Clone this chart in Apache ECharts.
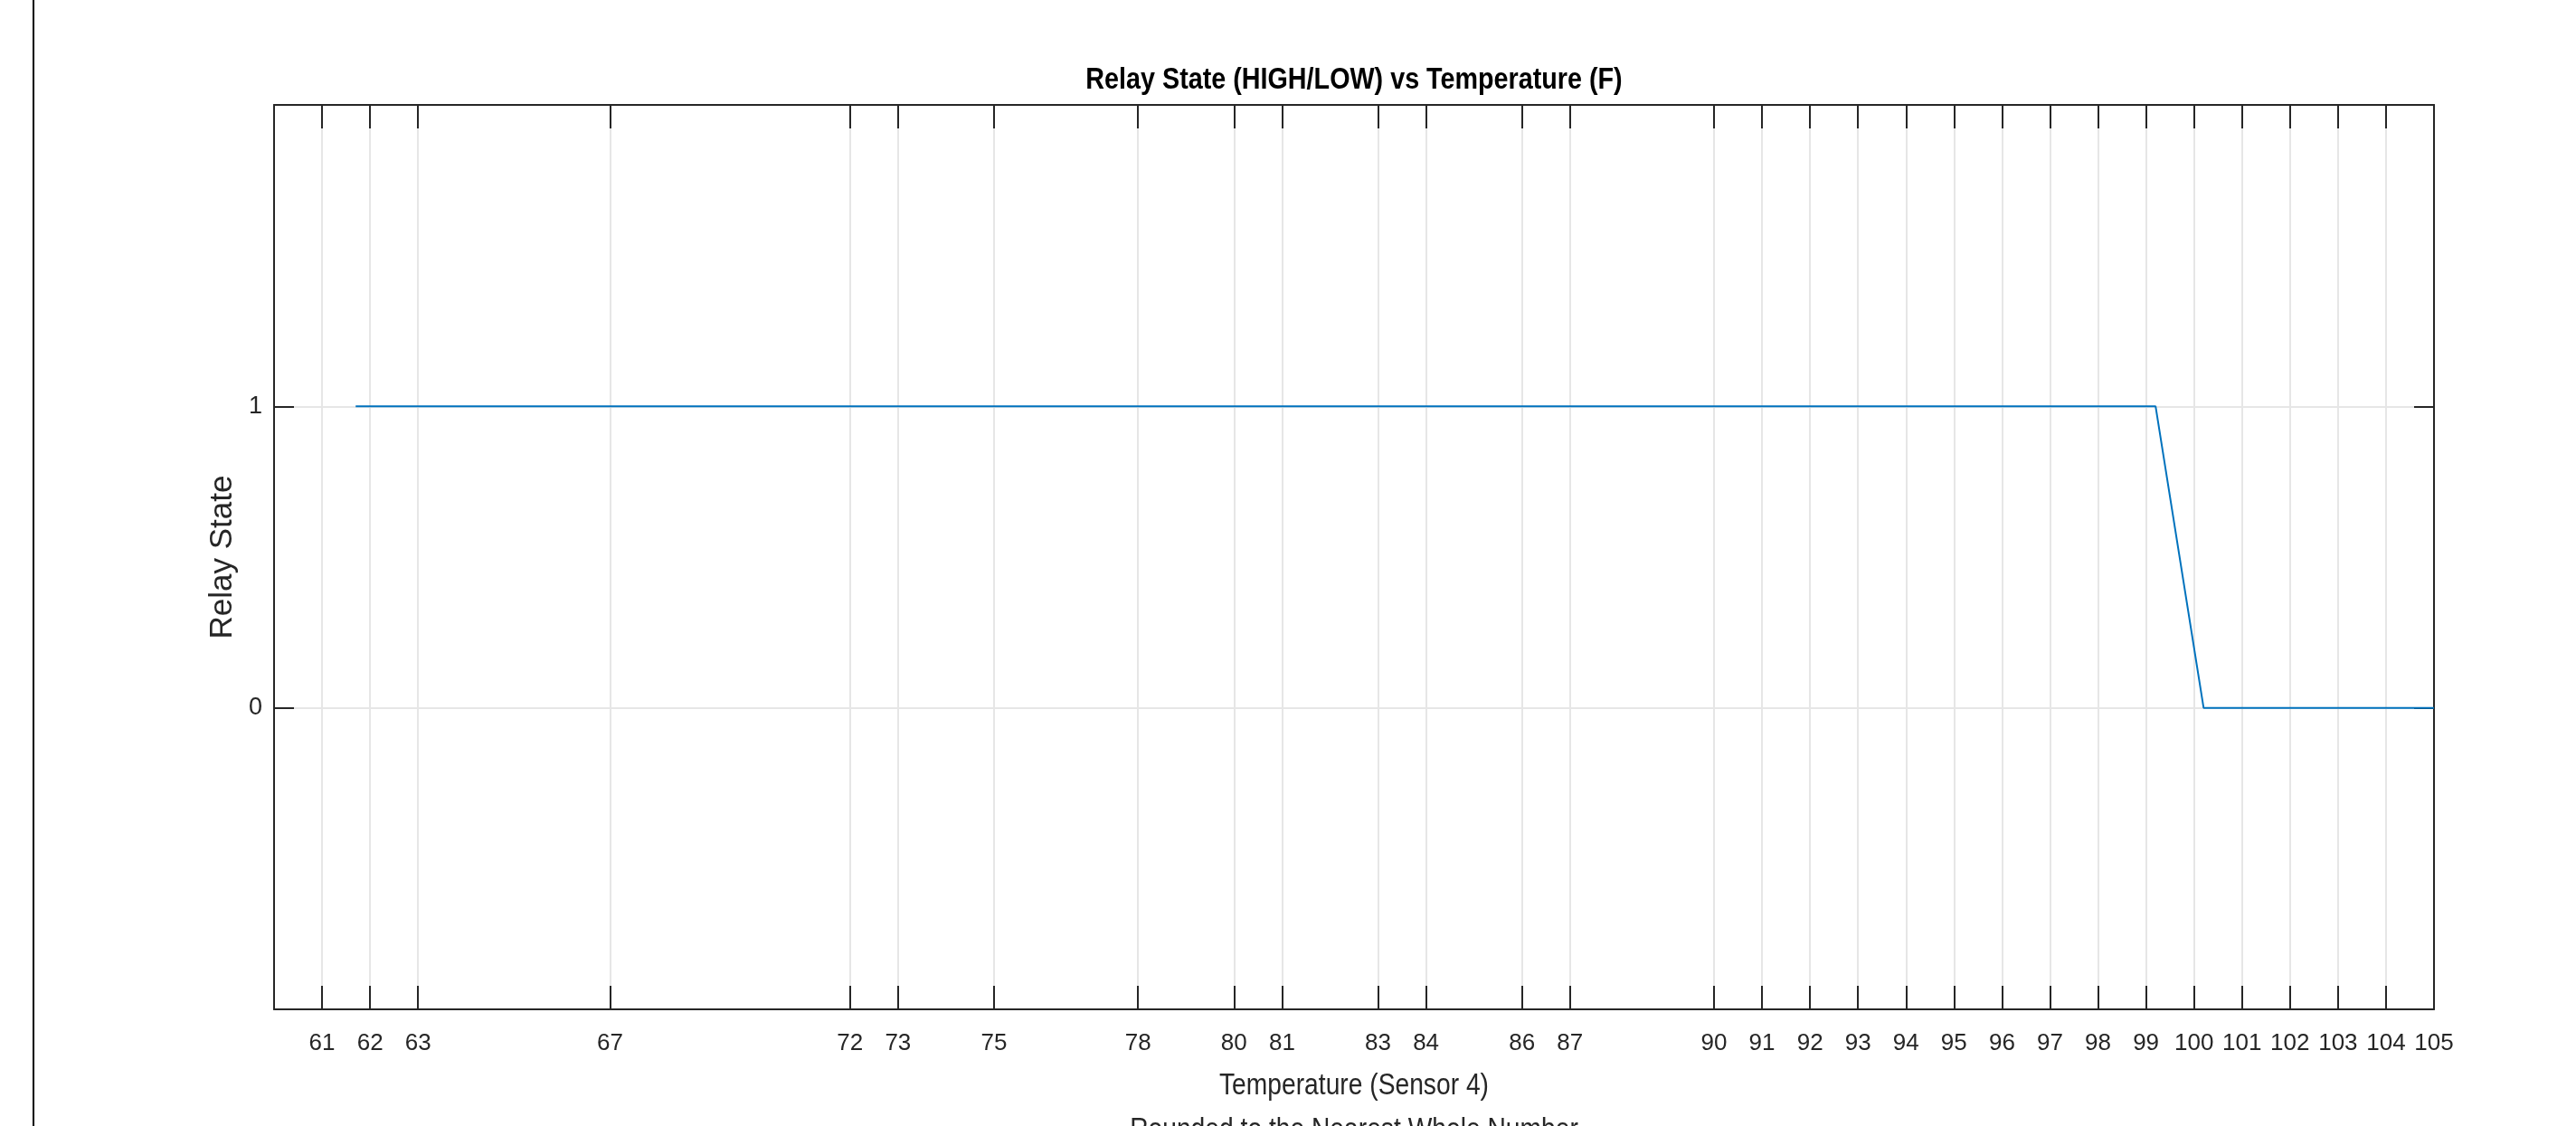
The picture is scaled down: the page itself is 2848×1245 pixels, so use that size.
<!DOCTYPE html>
<html>
<head>
<meta charset="utf-8">
<script src="https://cdn.jsdelivr.net/npm/echarts@6/dist/echarts.min.js"></script>
<style>
  html, body { margin: 0; padding: 0; background: #fff; }
  #chart { width: 2848px; height: 1245px; }
</style>
</head>
<body>
<div id="chart"></div>
<script>
// temperature readings (F) and relay state
const temps = [61.7, 99.2, 100.2, 105];
const relayState = [1, 1, 0, 0];

// tick marks shown on the temperature axis (rounded values)
const tempTicks = [61, 62, 63, 67, 72, 73, 75, 78, 80, 81, 83, 84, 86, 87,
  90, 91, 92, 93, 94, 95, 96, 97, 98, 99, 100, 101, 102, 103, 104, 105];
const stateTicks = [0, 1];

const font = "'Liberation Sans', Arial, sans-serif";
const axisColor = '#262626';

const chart = echarts.init(document.getElementById('chart'));

const xBase = {
  type: 'value',
  min: 60,
  max: 105,
  axisLine: { show: true, onZero: false, lineStyle: { color: axisColor, width: 2 } },
  axisTick: {
    show: true,
    inside: true,
    length: 26,
    customValues: tempTicks,
    lineStyle: { color: axisColor, width: 2 }
  }
};

const yBase = {
  type: 'value',
  min: -1,
  max: 2,
  axisLine: { show: true, onZero: false, lineStyle: { color: axisColor, width: 2 } },
  axisTick: {
    show: true,
    inside: true,
    length: 22,
    customValues: stateTicks,
    lineStyle: { color: axisColor, width: 2 }
  }
};

const option = {
  animation: false,
  backgroundColor: '#fff',
  grid: { left: 303, right: 157, top: 116, bottom: 129, outerBoundsMode: 'none', containLabel: false },
  xAxis: [
    Object.assign({}, xBase, {
      position: 'bottom',
      axisLabel: {
        show: true,
        customValues: tempTicks,
        margin: 25,
        fontFamily: font,
        fontSize: 26,
        color: '#262626'
      },
      splitLine: { show: true, lineStyle: { color: '#e6e6e6', width: 2 } }
    }),
    Object.assign({}, xBase, {
      position: 'top',
      axisLabel: { show: false },
      splitLine: { show: false }
    })
  ],
  yAxis: [
    Object.assign({}, yBase, {
      position: 'left',
      name: 'Relay State',
      nameLocation: 'middle',
      nameRotate: 90,
      nameGap: 20,
      nameTextStyle: { fontFamily: font, fontSize: 35, color: '#262626' },
      axisLabel: {
        show: true,
        customValues: stateTicks,
        margin: 13,
        fontFamily: font,
        fontSize: 27,
        color: '#262626'
      },
      splitLine: { show: true, lineStyle: { color: '#e6e6e6', width: 2 } }
    }),
    Object.assign({}, yBase, {
      position: 'right',
      axisLabel: { show: false },
      splitLine: { show: false }
    })
  ],
  graphic: [
    {
      type: 'line',
      shape: { x1: 37, y1: 0, x2: 37, y2: 1245 },
      style: { stroke: '#000', lineWidth: 2 }
    },
    {
      type: 'text',
      x: 1497,
      y: 89,
      scaleX: 0.845,
      style: {
        text: 'Relay State (HIGH/LOW) vs Temperature (F)',
        font: 'bold 34px ' + font,
        fill: '#000',
        textAlign: 'center',
        textVerticalAlign: 'middle'
      }
    },
    {
      type: 'text',
      x: 1497,
      y: 1201,
      scaleX: 0.83,
      style: {
        text: 'Temperature (Sensor 4)',
        font: '34px ' + font,
        fill: '#262626',
        textAlign: 'center',
        textVerticalAlign: 'middle'
      }
    },
    {
      type: 'text',
      x: 1497,
      y: 1250,
      scaleX: 0.83,
      style: {
        text: 'Rounded to the Nearest Whole Number',
        font: '34px ' + font,
        fill: '#262626',
        textAlign: 'center',
        textVerticalAlign: 'middle'
      }
    }
  ],
  series: [
    {
      type: 'line',
      xAxisIndex: 0,
      yAxisIndex: 0,
      data: temps.map((t, i) => [t, relayState[i]]),
      showSymbol: false,
      lineStyle: { color: '#0072BD', width: 2 },
      z: 5
    }
  ]
};

chart.setOption(option);
</script>
</body>
</html>
